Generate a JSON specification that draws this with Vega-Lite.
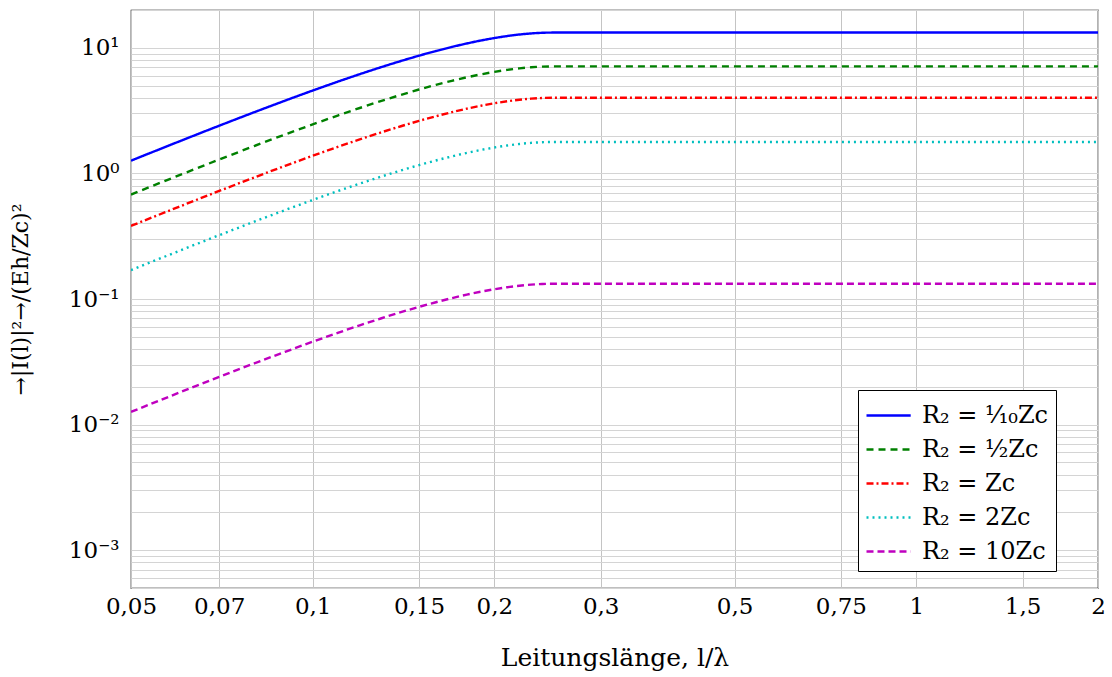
{
  "$schema": "https://vega.github.io/schema/vega-lite/v6.json",
  "width": 967,
  "height": 578,
  "autosize": {"type": "none"},
  "padding": {"left": 131, "top": 10, "right": 14, "bottom": 89},
  "background": "white",
  "config": {
    "view": {"stroke": "black", "strokeWidth": 1.2},
    "font": "DejaVu Serif"
  },
  "data": {
    "values": [
      {"x": 0.05, "a": 1.2627, "b": 0.6790, "c": 0.3820, "d": 0.16976, "e": 0.012627},
      {"x": 0.06, "a": 1.7918, "b": 0.9636, "c": 0.5420, "d": 0.24091, "e": 0.017918},
      {"x": 0.07, "a": 2.3972, "b": 1.2892, "c": 0.7252, "d": 0.32229, "e": 0.023972},
      {"x": 0.08, "a": 3.0688, "b": 1.6504, "c": 0.9283, "d": 0.41259, "e": 0.030688},
      {"x": 0.09, "a": 3.7965, "b": 2.0417, "c": 1.1484, "d": 0.51042, "e": 0.037965},
      {"x": 0.10, "a": 4.5684, "b": 2.4568, "c": 1.3820, "d": 0.61421, "e": 0.045684},
      {"x": 0.11, "a": 5.3727, "b": 2.8893, "c": 1.6252, "d": 0.72233, "e": 0.053727},
      {"x": 0.12, "a": 6.1963, "b": 3.3323, "c": 1.8744, "d": 0.83307, "e": 0.061963},
      {"x": 0.13, "a": 7.0267, "b": 3.7788, "c": 2.1256, "d": 0.94471, "e": 0.070267},
      {"x": 0.14, "a": 7.8504, "b": 4.2218, "c": 2.3748, "d": 1.05545, "e": 0.078504},
      {"x": 0.15, "a": 8.6546, "b": 4.6543, "c": 2.6180, "d": 1.16357, "e": 0.086546},
      {"x": 0.16, "a": 9.4266, "b": 5.0694, "c": 2.8516, "d": 1.26736, "e": 0.094266},
      {"x": 0.17, "a": 10.1542, "b": 5.4607, "c": 3.0716, "d": 1.36517, "e": 0.101542},
      {"x": 0.18, "a": 10.8259, "b": 5.8219, "c": 3.2748, "d": 1.45549, "e": 0.108259},
      {"x": 0.19, "a": 11.4311, "b": 6.1474, "c": 3.4579, "d": 1.53685, "e": 0.114311},
      {"x": 0.20, "a": 11.9604, "b": 6.4321, "c": 3.6180, "d": 1.60802, "e": 0.119604},
      {"x": 0.21, "a": 12.4052, "b": 6.6713, "c": 3.7526, "d": 1.66782, "e": 0.124052},
      {"x": 0.22, "a": 12.7588, "b": 6.8614, "c": 3.8596, "d": 1.71536, "e": 0.127588},
      {"x": 0.23, "a": 13.0153, "b": 6.9994, "c": 3.9372, "d": 1.74985, "e": 0.130153},
      {"x": 0.24, "a": 13.1710, "b": 7.0831, "c": 3.9842, "d": 1.77077, "e": 0.131710},
      {"x": 0.25, "a": 13.223, "b": 7.1111, "c": 4.0, "d": 1.7778, "e": 0.13223},
      {"x": 0.5, "a": 13.223, "b": 7.1111, "c": 4.0, "d": 1.7778, "e": 0.13223},
      {"x": 1.0, "a": 13.223, "b": 7.1111, "c": 4.0, "d": 1.7778, "e": 0.13223},
      {"x": 2.0, "a": 13.223, "b": 7.1111, "c": 4.0, "d": 1.7778, "e": 0.13223}
    ]
  },
  "transform": [
    {"fold": ["a", "b", "c", "d", "e"], "as": ["key", "val"]},
    {"lookup": "key", "from": {"data": {"values": [
      {"key": "a", "series": "R₂ = ¹⁄₁₀Zc"},
      {"key": "b", "series": "R₂ = ¹⁄₂Zc"},
      {"key": "c", "series": "R₂ = Zc"},
      {"key": "d", "series": "R₂ = 2Zc"},
      {"key": "e", "series": "R₂ = 10Zc"}
    ]}, "key": "key", "fields": ["series"]}}
  ],
  "mark": {"type": "line", "strokeWidth": 2.4, "interpolate": "monotone", "clip": true},
  "encoding": {
    "x": {
      "field": "x", "type": "quantitative",
      "scale": {"type": "log", "domain": [0.05, 2], "nice": false},
      "axis": {
        "values": [0.05, 0.07, 0.1, 0.15, 0.2, 0.3, 0.5, 0.75, 1, 1.5, 2],
        "labelExpr": "replace(toString(datum.value), '.', ',')",
        "title": "Leitungslänge, l/λ",
        "labelFont": "DejaVu Serif", "labelFontSize": 23, "labelColor": "black",
        "titleFont": "DejaVu Serif", "titleFontSize": 25, "titleFontWeight": "normal", "titleColor": "black",
        "labelPadding": 7, "titlePadding": 27,
        "ticks": false, "domain": false,
        "grid": true, "gridColor": "#c4c4c4", "gridWidth": 1,
        "labelFlush": false
      }
    },
    "y": {
      "field": "val", "type": "quantitative",
      "scale": {"type": "log", "domain": [0.0005, 20], "nice": false},
      "axis": {
        "values": [0.0005, 0.0006, 0.0007, 0.0008, 0.0009, 0.001, 0.002, 0.003, 0.004, 0.005, 0.006, 0.007, 0.008, 0.009, 0.01, 0.02, 0.03, 0.04, 0.05, 0.06, 0.07, 0.08, 0.09, 0.1, 0.2, 0.3, 0.4, 0.5, 0.6, 0.7, 0.8, 0.9, 1, 2, 3, 4, 5, 6, 7, 8, 9, 10, 20],
        "labelExpr": "datum.value == 10 ? '10¹' : datum.value == 1 ? '10⁰' : datum.value == 0.1 ? '10⁻¹' : datum.value == 0.01 ? '10⁻²' : datum.value == 0.001 ? '10⁻³' : ''",
        "title": "→|I(l)|²→/(Eh/Zc)²",
        "labelFont": "DejaVu Serif", "labelFontSize": 23, "labelColor": "black",
        "titleFont": "DejaVu Serif", "titleFontSize": 22, "titleFontWeight": "normal", "titleColor": "black",
        "labelPadding": 12, "titlePadding": 36,
        "ticks": false, "domain": false,
        "grid": true, "gridColor": "#d4d4d4", "gridWidth": 1,
        "labelOverlap": false
      }
    },
    "color": {
      "field": "series", "type": "nominal",
      "scale": {
        "domain": ["R₂ = ¹⁄₁₀Zc", "R₂ = ¹⁄₂Zc", "R₂ = Zc", "R₂ = 2Zc", "R₂ = 10Zc"],
        "range": ["#0000ff", "#008000", "#ff0000", "#00bfbf", "#bf00bf"]
      },
      "legend": {
        "title": null,
        "orient": "none", "legendX": 727, "legendY": 380,
        "fillColor": "white", "strokeColor": "black", "cornerRadius": 0,
        "padding": 7,
        "labelFont": "DejaVu Serif", "labelFontSize": 24, "labelColor": "black",
        "symbolType": "M-1,0H1.6", "symbolSize": 1156, "symbolStrokeWidth": 2.4,
        "symbolFillColor": "transparent",
        "rowPadding": 3, "labelOffset": 20
      }
    },
    "strokeDash": {
      "field": "series", "type": "nominal",
      "scale": {
        "domain": ["R₂ = ¹⁄₁₀Zc", "R₂ = ¹⁄₂Zc", "R₂ = Zc", "R₂ = 2Zc", "R₂ = 10Zc"],
        "range": [[1, 0], [7, 5], [7, 3, 2, 3], [2, 4], [7, 4]]
      },
      "legend": null
    }
  }
}
